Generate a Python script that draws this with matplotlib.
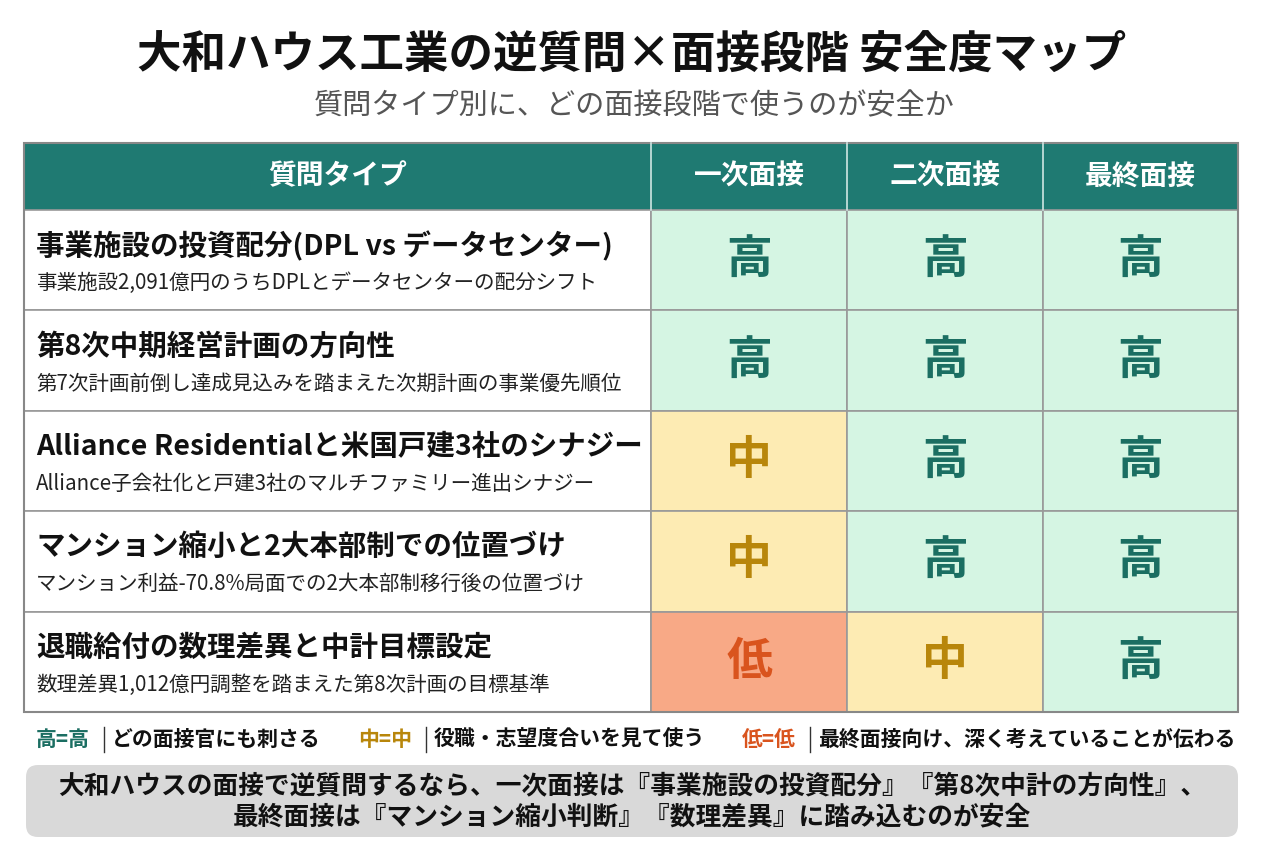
import matplotlib.pyplot as plt
from matplotlib.patches import Rectangle, FancyBboxPatch

plt.rcParams['font.family'] = ['Noto Sans CJK JP', 'DejaVu Sans']

title = "大和ハウス工業の逆質問×面接段階 安全度マップ"
subtitle = "質問タイプ別に、どの面接段階で使うのが安全か"
stages = ["一次面接", "二次面接", "最終面接"]
questions = [
    "事業施設の投資配分(DPL vs データセンター)",
    "第8次中期経営計画の方向性",
    "Alliance Residentialと米国戸建3社のシナジー",
    "マンション縮小と2大本部制での位置づけ",
    "退職給付の数理差異と中計目標設定",
]
details = [
    "事業施設2,091億円のうちDPLとデータセンターの配分シフト",
    "第7次計画前倒し達成見込みを踏まえた次期計画の事業優先順位",
    "Alliance子会社化と戸建3社のマルチファミリー進出シナジー",
    "マンション利益-70.8%局面での2大本部制移行後の位置づけ",
    "数理差異1,012億円調整を踏まえた第8次計画の目標基準",
]
levels = [
    ["高", "高", "高"],
    ["高", "高", "高"],
    ["中", "高", "高"],
    ["中", "高", "高"],
    ["低", "中", "高"],
]
legend_items = [
    ("高=高", "どの面接官にも刺さる"),
    ("中=中", "役職・志望度合いを見て使う"),
    ("低=低", "最終面接向け、深く考えていることが伝わる"),
]
summary = ["大和ハウスの面接で逆質問するなら、一次面接は『事業施設の投資配分』『第8次中計の方向性』、",
           "最終面接は『マンション縮小判断』『数理差異』に踏み込むのが安全"]

style = {
    "高": ("#d5f5e3", "#1b6e62"),
    "中": ("#fdebb3", "#b8860b"),
    "低": ("#f8a986", "#d9541e"),
}
teal = "#1f7a72"

fig = plt.figure(figsize=(12.64, 8.48), dpi=100)
ax = fig.add_axes([0, 0, 1, 1])
ax.set_xlim(0, 1264)
ax.set_ylim(848, 0)
ax.axis("off")

ax.text(632, 55, title, ha="center", va="center", fontsize=32, fontweight="bold", color="#111111")
ax.text(634, 106, subtitle, ha="center", va="center", fontsize=21, color="#555555")

col_x = [24, 651, 847, 1043, 1238]
head_top, head_bot = 143, 210
row_h = 100.4

# header
ax.add_patch(Rectangle((col_x[0], head_top), col_x[-1] - col_x[0], head_bot - head_top,
                       facecolor=teal, edgecolor="none"))
headers = ["質問タイプ"] + stages
for i, h in enumerate(headers):
    ax.text((col_x[i] + col_x[i + 1]) / 2, (head_top + head_bot) / 2, h, ha="center", va="center",
            fontsize=20, fontweight="bold", color="white")
    if i > 0:
        ax.plot([col_x[i]] * 2, [head_top, head_bot], color="#cfe5e2", lw=1.2)

for r, q in enumerate(questions):
    y0 = head_bot + r * row_h
    ax.add_patch(Rectangle((col_x[0], y0), col_x[1] - col_x[0], row_h, facecolor="white",
                           edgecolor="#999999", lw=1.2))
    ax.text(36, y0 + 36, q, ha="left", va="center", fontsize=20.5, fontweight="bold", color="#111111")
    ax.text(36, y0 + 73, details[r], ha="left", va="center", fontsize=14.8, color="#222222")
    for c, lv in enumerate(levels[r]):
        bg, fg = style[lv]
        ax.add_patch(Rectangle((col_x[c + 1], y0), col_x[c + 2] - col_x[c + 1], row_h,
                               facecolor=bg, edgecolor="#999999", lw=1.2))
        ax.text((col_x[c + 1] + col_x[c + 2]) / 2, y0 + row_h / 2, lv, ha="center", va="center",
                fontsize=33, fontweight="bold", color=fg)

ax.add_patch(Rectangle((col_x[0], head_top), col_x[-1] - col_x[0], head_bot - head_top + 5 * row_h,
                       facecolor="none", edgecolor="#888888", lw=1.5))

# legend
legend_x = [36, 358, 742]
for (k, desc), x in zip(legend_items, legend_x):
    fg = style[k[0]][1]
    ax.text(x, 739, k, ha="left", va="center", fontsize=15, fontweight="bold", color=fg)
    ax.plot([x + 68, x + 68], [727, 752], color="#333333", lw=1)
    ax.text(x + 76, 739, desc, ha="left", va="center", fontsize=15, fontweight="bold", color="#111111")

# summary box
ax.add_patch(FancyBboxPatch((26, 765), 1212, 72, boxstyle="round,pad=0,rounding_size=12",
                            facecolor="#d9d9d9", edgecolor="none"))
ax.text(632, 786, summary[0], ha="center", va="center", fontsize=18.5, fontweight="bold", color="#111111")
ax.text(632, 817, summary[1], ha="center", va="center", fontsize=18.5, fontweight="bold", color="#111111")

fig.savefig("out.png", dpi=100)
